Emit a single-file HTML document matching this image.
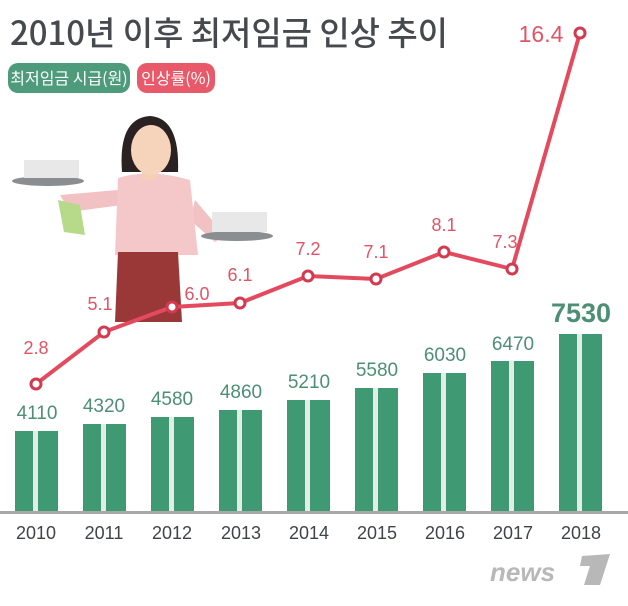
<!DOCTYPE html>
<html><head><meta charset="utf-8"><style>
body{margin:0;background:#fff;}
svg text{font-family:"Liberation Sans","Noto Sans CJK KR",sans-serif;}
</style></head><body>
<svg width="628" height="601" viewBox="0 0 628 601" xmlns="http://www.w3.org/2000/svg">
<rect width="628" height="601" fill="#fff"/>
<text x="10" y="45" font-size="33" fill="#464a4e" font-weight="500" style="font-family:'Noto Sans CJK KR',sans-serif" textLength="438">2010년 이후 최저임금 인상 추이</text>
<rect x="8" y="63" width="122" height="30" rx="10" fill="#4d9b7b"/>
<text x="69" y="84" font-size="16" fill="#fff" text-anchor="middle" style="font-family:'Noto Sans CJK KR',sans-serif">최저임금 시급(원)</text>
<rect x="137" y="63" width="78" height="30" rx="10" fill="#e85a6a"/>
<text x="176" y="84" font-size="16" fill="#fff" text-anchor="middle" style="font-family:'Noto Sans CJK KR',sans-serif">인상률(%)</text>

<g>
<path d="M60 195 L118 190 L122 205 L70 212Z" fill="#f2c1c4"/>
<path d="M58 200 L80 205 L85 235 L64 232Z" fill="#b7d98a"/>
<path d="M195 200 L225 235 L215 242 L190 220Z" fill="#f2c1c4"/>
<path d="M118 178 Q150 168 190 180 L198 255 L115 255Z" fill="#f4c7c9"/>
<path d="M118 252 L178 252 L182 322 L115 322Z" fill="#9a3838"/>
<rect x="142" y="160" width="16" height="20" fill="#f4cfb6"/>
<path d="M122 172 Q118 118 150 116 Q180 118 178 172Z" fill="#2a2222"/>
<ellipse cx="151" cy="150" rx="20" ry="25" fill="#f6d4bc"/>
<ellipse cx="48" cy="181" rx="36" ry="5" fill="#8a8e90"/>
<rect x="24" y="160" width="55" height="18" fill="#e8e8e8"/>
<ellipse cx="237" cy="236" rx="36" ry="5" fill="#8a8e90"/>
<rect x="212" y="212" width="55" height="20" fill="#e8e8e8"/>
</g>

<g fill="#3f9a74">
<rect x="15" y="431" width="43" height="81"/>
<rect x="83" y="424" width="43" height="88"/>
<rect x="151" y="417" width="43" height="95"/>
<rect x="219" y="410" width="43" height="102"/>
<rect x="287" y="400" width="43" height="112"/>
<rect x="355" y="388" width="43" height="124"/>
<rect x="423" y="373" width="43" height="139"/>
<rect x="491" y="361" width="43" height="151"/>
<rect x="559" y="334" width="43" height="178"/>
</g>
<g fill="#e4ece6">
<rect x="33" y="431" width="5" height="81"/><rect x="101" y="424" width="5" height="88"/><rect x="169" y="417" width="5" height="95"/><rect x="237" y="410" width="5" height="102"/><rect x="305" y="400" width="5" height="112"/><rect x="373" y="388" width="5" height="124"/><rect x="441" y="373" width="5" height="139"/><rect x="509" y="361" width="5" height="151"/><rect x="577" y="334" width="5" height="178"/>
</g>
<rect x="0" y="511" width="628" height="3" fill="#a8a8a8"/>
<g font-size="19" fill="#4d8f74" text-anchor="middle">
<text x="37" y="419">4110</text><text x="104" y="412">4320</text><text x="172" y="405">4580</text><text x="241" y="398">4860</text><text x="309" y="388">5210</text><text x="377" y="376">5580</text><text x="445" y="361">6030</text><text x="513" y="350">6470</text>
<text x="581" y="322" font-size="27" font-weight="bold">7530</text>
</g>
<g font-size="18" fill="#404448" text-anchor="middle">
<text x="36" y="539">2010</text><text x="104" y="539">2011</text><text x="172" y="539">2012</text><text x="241" y="539">2013</text><text x="309" y="539">2014</text><text x="377" y="539">2015</text><text x="445" y="539">2016</text><text x="513" y="539">2017</text><text x="581" y="539">2018</text>
</g>

<polyline points="36,384 104,332 172,307 240,303 308,276 376,279 444,252 512,269 580,33" fill="none" stroke="#e44a5e" stroke-width="4"/>
<g fill="#fff" stroke="#d33a50" stroke-width="3">
<circle cx="36" cy="384" r="5"/><circle cx="104" cy="332" r="5"/><circle cx="172" cy="307" r="5"/><circle cx="240" cy="303" r="5"/><circle cx="308" cy="276" r="5"/><circle cx="376" cy="279" r="5"/><circle cx="444" cy="252" r="5"/><circle cx="512" cy="269" r="5"/><circle cx="580" cy="33" r="5"/>
</g>
<g font-size="18" fill="#e05466" text-anchor="middle">
<text x="36" y="354">2.8</text><text x="100" y="310">5.1</text><text x="197" y="300">6.0</text><text x="240" y="281">6.1</text><text x="308" y="255">7.2</text><text x="376" y="258">7.1</text><text x="444" y="231">8.1</text><text x="505" y="248">7.3</text>
<text x="541" y="42" font-size="23">16.4</text>
</g>
<text x="490" y="581" font-size="26" fill="#b8b8b8" font-style="italic" font-weight="bold">news</text>
<path d="M582 556 L610 554 L600 585 L584 585 L590 566 L580 566Z" fill="#b8b8b8"/>
</svg>
</body></html>
